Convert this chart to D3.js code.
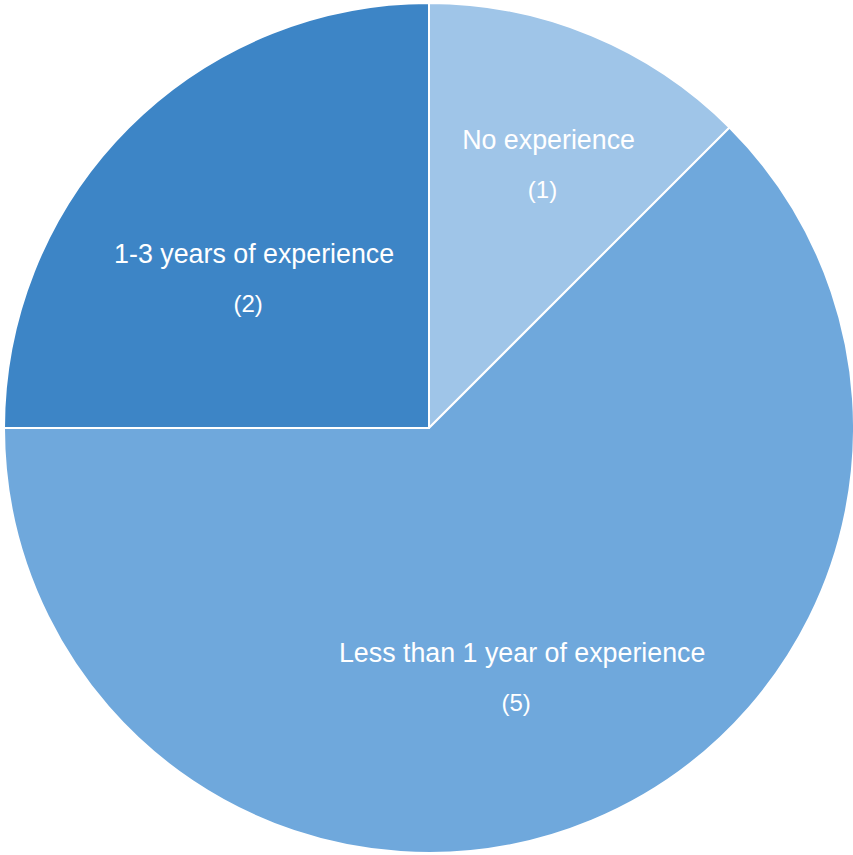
<!DOCTYPE html>
<html>
<head>
<meta charset="utf-8">
<script src="https://cdn.jsdelivr.net/npm/d3@7/dist/d3.min.js"></script>
<style>
  html, body { margin: 0; padding: 0; background: #ffffff; }
  svg { display: block; }
</style>
</head>
<body>
<script>
// Experience levels and respondent counts
const categories = ["No experience", "Less than 1 year of experience", "1-3 years of experience"];
const counts = [1, 5, 2];
const colors = ["#9fc5e8", "#6fa8dc", "#3d85c6"];
// how far out (fraction of radius) each label sits along its slice's mid-angle
const labelRadius = [0.735, 0.573, 0.582];

const width = 853, height = 855;
const cx = 429, cy = 428, R = 425;

const svg = d3.select("body").append("svg")
  .attr("width", width).attr("height", height);

const g = svg.append("g").attr("transform", `translate(${cx},${cy})`);

const pie = d3.pie().sort(null).value(d => d)(counts);
const arc = d3.arc().innerRadius(0).outerRadius(R);

g.selectAll("path.slice")
  .data(pie)
  .join("path")
  .attr("class", "slice")
  .attr("d", arc)
  .attr("fill", (d, i) => colors[i])
  .attr("stroke", "#ffffff")
  .attr("stroke-width", 2)
  .attr("stroke-linejoin", "round");

const labels = g.selectAll("g.label")
  .data(pie)
  .join("g")
  .attr("class", "label")
  .attr("transform", (d, i) => {
    const a = (d.startAngle + d.endAngle) / 2;
    const r = R * labelRadius[i];
    return `translate(${Math.sin(a) * r},${-Math.cos(a) * r})`;
  });

labels.append("text")
  .attr("text-anchor", "middle")
  .attr("y", 9.5)
  .attr("fill", "#ffffff")
  .style("font-family", "'Liberation Sans', Arial, Helvetica, sans-serif")
  .style("font-size", "26.8px")
  .text((d, i) => categories[i]);

labels.append("text")
  .attr("text-anchor", "middle")
  .attr("x", -6)
  .attr("y", 58.5)
  .attr("fill", "#ffffff")
  .style("font-family", "'Liberation Sans', Arial, Helvetica, sans-serif")
  .style("font-size", "24px")
  .text(d => `(${d.data})`);
</script>
</body>
</html>
